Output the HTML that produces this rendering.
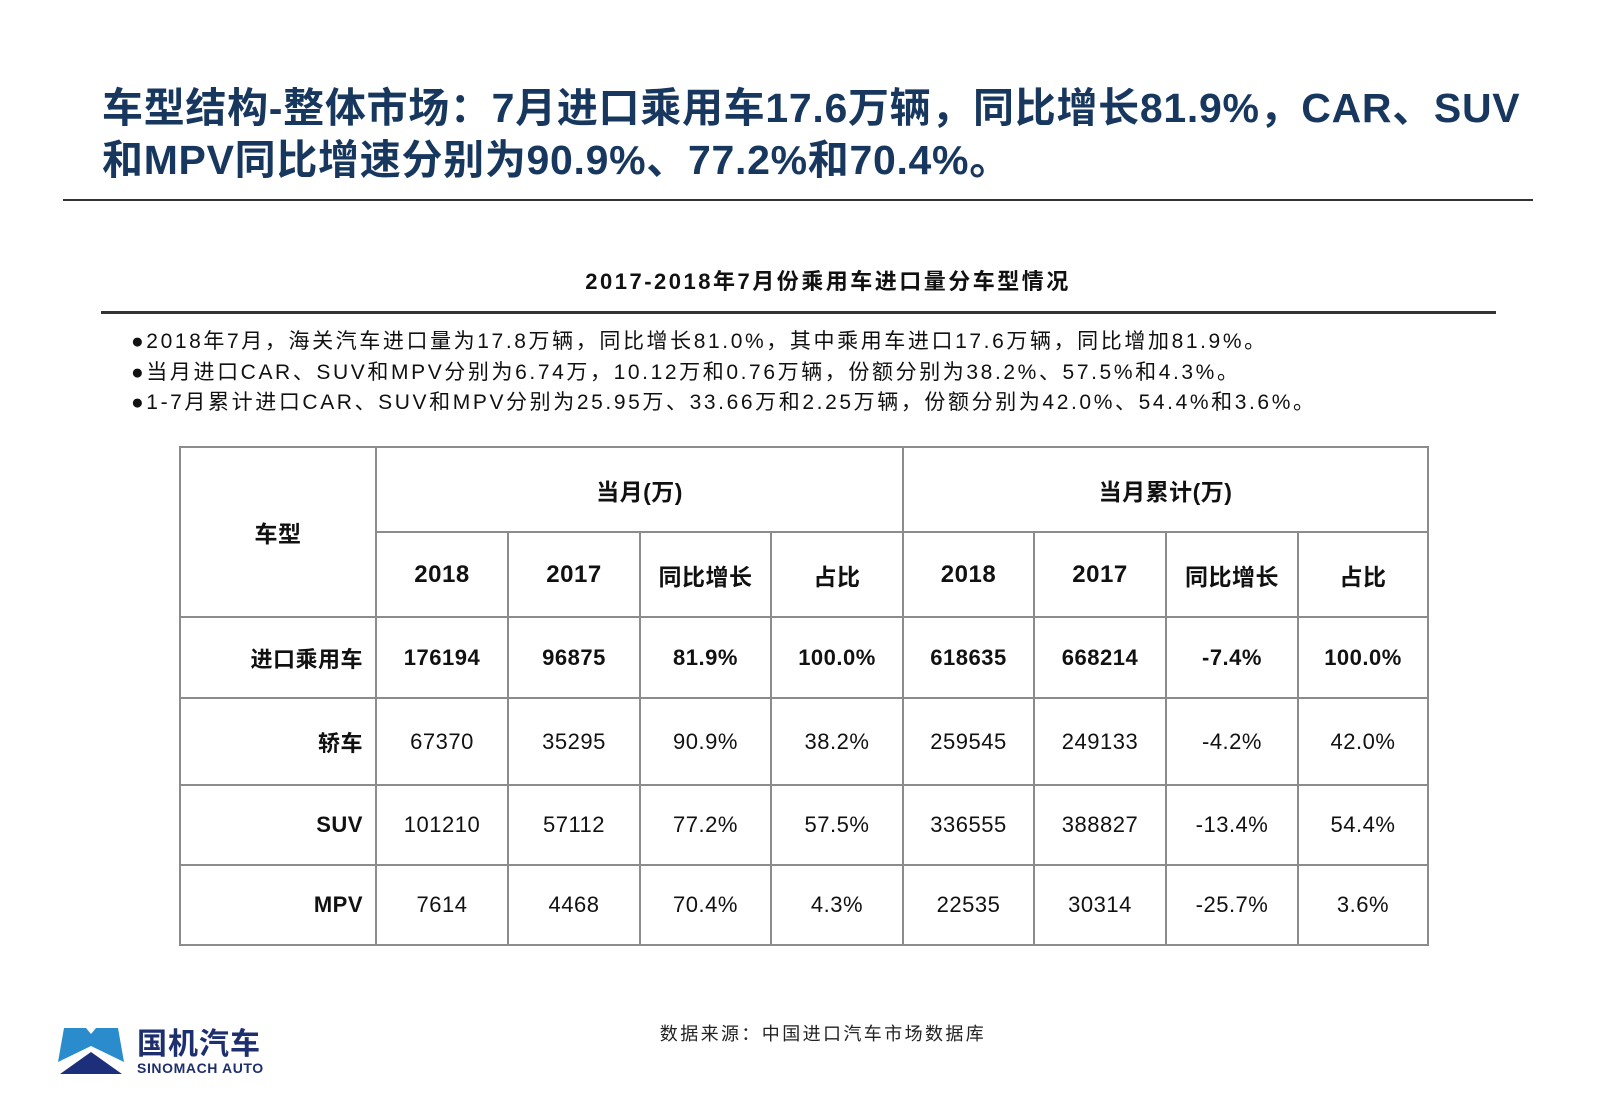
<!DOCTYPE html>
<html><head><meta charset="utf-8"><style>
body{margin:0;width:1600px;height:1107px;background:#fff;position:relative;overflow:hidden;font-family:"Liberation Sans","Noto Sans CJK SC",sans-serif;}
.abs{position:absolute;white-space:nowrap}
.title{left:102px;top:82px;font-size:41px;font-weight:bold;color:#17375e;line-height:52px;letter-spacing:0.7px}
table{position:absolute;left:179px;top:446px;border-collapse:collapse;}
td{border:2px solid #8c8c8c;text-align:center;font-size:22px;color:#111;padding:0;letter-spacing:0.5px}
.b td,.h{font-weight:bold}
td.r{text-align:right;padding-right:12px;font-weight:bold}
</style></head><body>
<div class="abs title">车型结构-整体市场：7月进口乘用车17.6万辆，同比增长81.9%，CAR、SUV<br>和MPV同比增速分别为90.9%、77.2%和70.4%。</div>
<div class="abs" style="left:63px;top:199px;width:1470px;height:2px;background:#333"></div>
<div class="abs" style="left:0;width:1656px;top:264px;text-align:center;font-size:22px;font-weight:bold;color:#111;letter-spacing:2.5px">2017-2018年7月份乘用车进口量分车型情况</div>
<div class="abs" style="left:101px;top:311px;width:1395px;height:3px;background:#333"></div>
<div class="abs" style="left:131px;top:327px;font-size:21px;line-height:30.5px;color:#111;letter-spacing:2.6px">●2018年7月，海关汽车进口量为17.8万辆，同比增长81.0%，其中乘用车进口17.6万辆，同比增加81.9%。<br>●当月进口CAR、SUV和MPV分别为6.74万，10.12万和0.76万辆，份额分别为38.2%、57.5%和4.3%。<br>●1-7月累计进口CAR、SUV和MPV分别为25.95万、33.66万和2.25万辆，份额分别为42.0%、54.4%和3.6%。</div>
<table>
<colgroup><col style="width:196px"><col style="width:132px"><col style="width:132px"><col style="width:131px"><col style="width:132px"><col style="width:131px"><col style="width:132px"><col style="width:132px"><col style="width:130px"></colgroup>
<tr style="height:85px"><td rowspan="2" class="h" style="font-size:23px">车型</td><td colspan="4" class="h" style="font-size:23px">当月(万)</td><td colspan="4" class="h" style="font-size:23px">当月累计(万)</td></tr>
<tr style="height:85px" class="b"><td style="font-size:24px">2018</td><td style="font-size:24px">2017</td><td style="font-size:23px">同比增长</td><td style="font-size:23px">占比</td><td style="font-size:24px">2018</td><td style="font-size:24px">2017</td><td style="font-size:23px">同比增长</td><td style="font-size:23px">占比</td></tr>
<tr style="height:81px" class="b"><td class="r">进口乘用车</td><td>176194</td><td>96875</td><td>81.9%</td><td>100.0%</td><td>618635</td><td>668214</td><td>-7.4%</td><td>100.0%</td></tr>
<tr style="height:87px"><td class="r">轿车</td><td>67370</td><td>35295</td><td>90.9%</td><td>38.2%</td><td>259545</td><td>249133</td><td>-4.2%</td><td>42.0%</td></tr>
<tr style="height:80px"><td class="r">SUV</td><td>101210</td><td>57112</td><td>77.2%</td><td>57.5%</td><td>336555</td><td>388827</td><td>-13.4%</td><td>54.4%</td></tr>
<tr style="height:80px"><td class="r">MPV</td><td>7614</td><td>4468</td><td>70.4%</td><td>4.3%</td><td>22535</td><td>30314</td><td>-25.7%</td><td>3.6%</td></tr>
</table>
<div class="abs" style="left:0;width:1646px;top:1020px;text-align:center;font-size:18px;color:#222;letter-spacing:2.4px">数据来源：中国进口汽车市场数据库</div>
<svg class="abs" style="left:58px;top:1026px" width="68" height="52" viewBox="0 0 68 52">
<polygon points="6,2 28,2 33,8 38,2 60,2 66,36 33,20 0,36" fill="#2a8ccc"/>
<polygon points="2,48 33,26 64,48" fill="#1d2f7a"/>
</svg>
<div class="abs" style="left:137px;top:1019px;font-size:30px;font-weight:bold;color:#1d2f6e;letter-spacing:1px">国机汽车</div>
<div class="abs" style="left:137px;top:1060px;font-size:14px;font-weight:bold;color:#1d2f6e;letter-spacing:0.6px">SINOMACH AUTO</div>
</body></html>
